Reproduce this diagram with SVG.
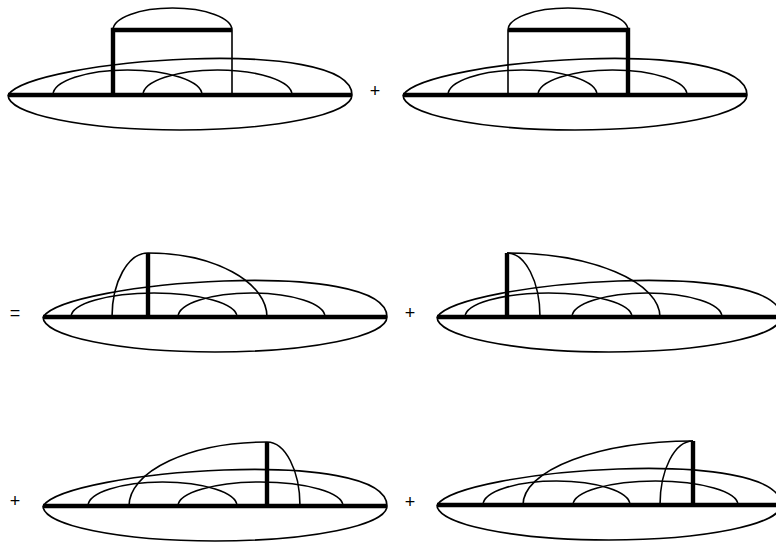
<svg xmlns="http://www.w3.org/2000/svg" width="776" height="542" viewBox="0 0 776 542">
<style>
.thin{fill:none;stroke:#000;stroke-width:1.6}
.thick{fill:none;stroke:#000;stroke-width:4.4;stroke-linecap:butt;stroke-linejoin:miter}
.op{font-family:"Liberation Sans",Arial,sans-serif;font-size:18px;fill:#000;text-anchor:middle}
</style>
<defs>
<g id="disk">
<path class="thin" d="M0,0 A172,35 0 0 0 344,0"/>
<path class="thin" d="M0,0 C24,-36 344,-60 344,0"/>
</g>
</defs>
<g id="panel1" transform="translate(8,95)">
<use href="#disk"/>
<path class="thin" d="M45,0 A74.5,25 0 0 1 194,0"/>
<path class="thin" d="M135,0 A74.5,25 0 0 1 284,0"/>
<path class="thin" d="M224,0 V-65"/>
<path class="thin" d="M105,-65 A59.5,22 0 0 1 224,-65"/>
<path class="thick" d="M105,0 V-65 H224"/>
<path class="thick" d="M0,0 H344"/>
</g>
<text class="op" x="375" y="97">+</text>
<g id="panel2" transform="translate(403,95)">
<use href="#disk"/>
<path class="thin" d="M45,0 A74.5,25 0 0 1 194,0"/>
<path class="thin" d="M135,0 A74.5,25 0 0 1 284,0"/>
<path class="thin" d="M105,0 V-65"/>
<path class="thin" d="M105,-65 A60,22 0 0 1 225,-65"/>
<path class="thick" d="M105,-65 H225 V0"/>
<path class="thick" d="M0,0 H344"/>
</g>
<text class="op" x="15" y="319">=</text>
<g id="panel3" transform="translate(43,317)">
<use href="#disk"/>
<path class="thin" d="M28,0 A83,24 0 0 1 194,0"/>
<path class="thin" d="M135,0 A73.5,24 0 0 1 282,0"/>
<path class="thin" d="M69,0 A36,64 0 0 1 105,-64 A119,64 0 0 1 224,0"/>
<path class="thick" d="M105,0 V-64"/>
<path class="thick" d="M0,0 H344"/>
</g>
<text class="op" x="410" y="319">+</text>
<g id="panel4" transform="translate(437,317)">
<use href="#disk"/>
<path class="thin" d="M28,0 A83.5,24 0 0 1 195,0"/>
<path class="thin" d="M135,0 A75,24 0 0 1 285,0"/>
<path class="thin" d="M70,-64 A33,64 0 0 1 103,0"/>
<path class="thin" d="M70,-64 A153,64 0 0 1 223,0"/>
<path class="thick" d="M70,0 V-64"/>
<path class="thick" d="M0,0 H344"/>
</g>
<text class="op" x="15" y="507">+</text>
<g id="panel5" transform="translate(43,506)">
<use href="#disk"/>
<path class="thin" d="M45,0 A74.5,24 0 0 1 194,0"/>
<path class="thin" d="M135,0 A82.5,24 0 0 1 300,0"/>
<path class="thin" d="M86,0 A138,64 0 0 1 224,-64 A33,64 0 0 1 257,0"/>
<path class="thick" d="M224,0 V-64"/>
<path class="thick" d="M0,0 H344"/>
</g>
<text class="op" x="410" y="508">+</text>
<g id="panel6" transform="translate(437,505)">
<use href="#disk"/>
<path class="thin" d="M46,0 A73.5,24 0 0 1 193,0"/>
<path class="thin" d="M136,0 A82.5,24 0 0 1 301,0"/>
<path class="thin" d="M86,0 A170,64 0 0 1 256,-64"/>
<path class="thin" d="M223,0 A33,64 0 0 1 256,-64"/>
<path class="thick" d="M256,0 V-64"/>
<path class="thick" d="M0,0 H344"/>
</g>
</svg>
